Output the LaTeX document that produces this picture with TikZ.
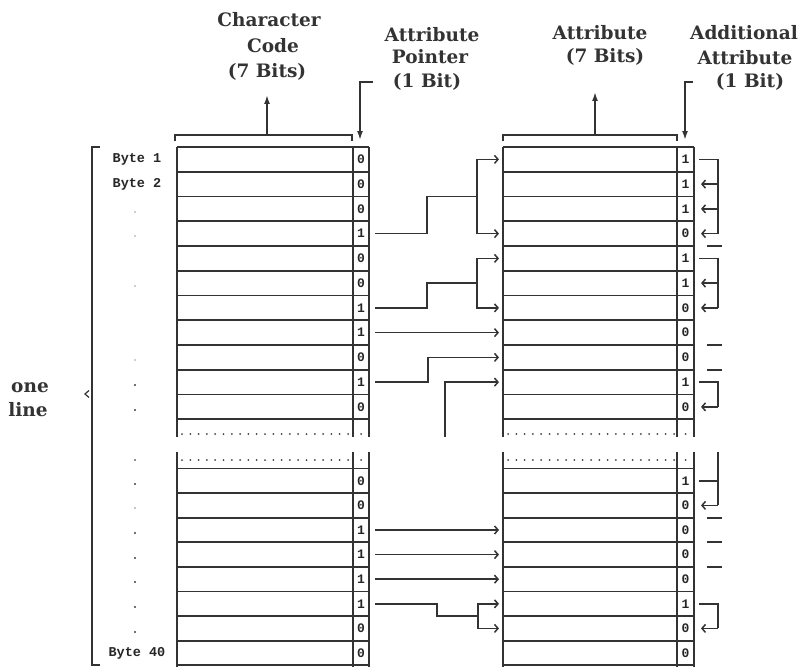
\documentclass[tikz,border=0pt]{standalone}
\usepackage{fontspec}
\setmainfont{DejaVu Serif}
\newfontfamily\lblfont{DejaVu Serif}
\newfontfamily\dotfont{Liberation Mono}
\usetikzlibrary{arrows.meta}
\tikzset{
  tbl/.style={line width=1.8pt, draw=black!80},
  wire/.style={line width=1.7pt, draw=black!80},
  arr/.style={wire, -{Straight Barb[length=3.5pt,width=8pt,line width=1.5pt]}},
  uparr/.style={wire, -{Latex[length=9pt,width=6pt]}},
  lbl/.style={font=\lblfont\bfseries\fontsize{18.5}{22}\selectfont, text=black!80, anchor=base, inner sep=0pt},
  bitlbl/.style={font=\dotfont\bfseries\fontsize{13}{13}\selectfont, text=black!85, inner sep=0pt},
  bytelbl/.style={font=\dotfont\bfseries\fontsize{13.5}{13.5}\selectfont, text=black!85, inner sep=0pt},
  dotmark/.style={fill=black!75}
}
\begin{document}
\begin{tikzpicture}[x=1pt, y=-1pt, line join=miter]
\useasboundingbox (0,0) rectangle (802,666);

% ---------- tables ----------
\foreach \xa/\xb/\xc in {177/353/369, 503/677/694}{
  \foreach \k in {0,...,11}{\draw[tbl] (\xa,{147+\k*24.75}) -- (\xc,{147+\k*24.75});}
  \foreach \k in {0,...,8}{\draw[tbl] (\xa,{468.5+\k*24.6}) -- (\xc,{468.5+\k*24.6});}
  \foreach \xx in {\xa,\xb,\xc}{
    \draw[tbl] (\xx,147) -- (\xx,437);
    \draw[tbl] (\xx,452) -- (\xx,667);
  }
  \foreach \yy in {434,460}{
    \foreach \k in {0,...,20}{\fill[dotmark] ({\xa+5+\k*8.3},\yy) circle[radius=1pt];}
    \fill[dotmark] ({(\xb+\xc)/2},\yy) circle[radius=1pt];
  }
}

% ---------- bit values and anchor coordinates ----------
\foreach \v [count=\i] in {0,0,0,1,0,0,1,1,0,1,0}{
  \node[bitlbl] (lbU\i) at (361,{147+(\i-0.5)*24.75}) {\v};
  \coordinate (LoU-\i) at (375,{147+(\i-0.5)*24.75});
}
\foreach \v [count=\i] in {1,1,1,0,1,1,0,0,0,1,0}{
  \node[bitlbl] (rbU\i) at (685.5,{147+(\i-0.5)*24.75}) {\v};
  \coordinate (RiU-\i) at (499,{147+(\i-0.5)*24.75});
  \coordinate (RoU-\i) at (699,{147+(\i-0.5)*24.75});
  \coordinate (RaU-\i) at (701,{147+(\i-0.5)*24.75});
}
\foreach \v [count=\i] in {0,0,1,1,1,1,0,0}{
  \node[bitlbl] (lbL\i) at (361,{468.5+(\i-0.5)*24.6}) {\v};
  \coordinate (LoL-\i) at (375,{468.5+(\i-0.5)*24.6});
}
\foreach \v [count=\i] in {1,0,0,0,0,1,0,0}{
  \node[bitlbl] (rbL\i) at (685.5,{468.5+(\i-0.5)*24.6}) {\v};
  \coordinate (RiL-\i) at (499,{468.5+(\i-0.5)*24.6});
  \coordinate (RoL-\i) at (699,{468.5+(\i-0.5)*24.6});
  \coordinate (RaL-\i) at (701,{468.5+(\i-0.5)*24.6});
}

% ---------- byte labels and dots ----------
\node[bytelbl] (b1) at (137,159.4) {Byte 1};
\node[bytelbl] (b2) at (137,184.1) {Byte 2};
\node[bytelbl] (b40) at (137,653) {Byte 40};
\foreach \y/\c in {212/black!25, 236/black!25, 286/black!25, 360/black!25, 385/black!75, 410/black!75,
                   460/black!60, 484/black!75, 508/black!30, 533/black!75, 558/black!75,
                   582/black!75, 607/black!75, 632/black!75}{
  \fill[\c] (135,\y) circle[radius=1.2pt];
}

% ---------- left brace: one line ----------
\draw[tbl] (100,147) -- (92,147) -- (92,665) -- (100,665);
\draw[wire, line width=1.2pt] (89,390.5) -- (85,394) -- (89,397.5);
\node[lbl] (one) at (30,392) {one};
\node[lbl] (line) at (28,416) {line};

% ---------- top annotations ----------
\draw[tbl] (175,141) -- (175,135) -- (352,135) -- (352,141);
\draw[uparr] (267,135) -- (267,95);
\node[lbl] (cc1) at (269,27) {Character};
\node[lbl] (cc2) at (273,53) {Code};
\node[lbl] (cc3) at (267,78) {(7 Bits)};

\draw[uparr] (373,82) -- (360,82) -- (360,140);
\node[lbl] (ap1) at (432,42) {Attribute};
\node[lbl] (ap2) at (430,64) {Pointer};
\node[lbl] (ap3) at (427,88) {(1 Bit)};

\draw[tbl] (503,141) -- (503,135) -- (677,135) -- (677,141);
\draw[uparr] (595,135) -- (595,92);
\node[lbl] (at1) at (600,40) {Attribute};
\node[lbl] (at2) at (605,63) {(7 Bits)};

\draw[uparr] (693,82) -- (685,82) -- (685,140);
\node[lbl] (ad1) at (744,40) {Additional};
\node[lbl] (ad2) at (745,65) {Attribute};
\node[lbl] (ad3) at (750,88) {(1 Bit)};

% ---------- pointer connectors ----------
\draw[wire] (LoU-4) -| (427,196.5) -- (477,196.5);
\draw[arr] (477,196.5) |- (RiU-1);
\draw[arr] (477,196.5) |- (RiU-4);
\draw[wire] (LoU-7) -| (427,283.1) -- (477,283.1);
\draw[arr] (477,283.1) |- (RiU-5);
\draw[arr] (477,283.1) |- (RiU-7);
\draw[arr] (LoU-8) -- (RiU-8);
\draw[arr] (LoU-10) -- ++(53,0) |- (RiU-9);
\coordinate (gapA) at (445,437);
\draw[arr] (gapA) |- (RiU-10);
\foreach \k in {3,4,5}{\draw[arr] (LoL-\k) -- (RiL-\k);}
\draw[wire] (LoL-6) -- ++(62,0) |- (478,616.1);
\draw[arr] (478,616.1) |- (RiL-6);
\draw[arr] (478,616.1) |- (RiL-7);

% ---------- additional attribute brackets ----------
\draw[wire] (RoU-1) -- ++(19,0) -- ++(0,74.25);
\foreach \k in {2,3,4}{\draw[arr] (RaU-\k) ++(17,0) -- (RaU-\k);}
\draw[wire] (RoU-5) -- ++(19,0) -- ++(0,49.5);
\foreach \k in {6,7}{\draw[arr] (RaU-\k) ++(17,0) -- (RaU-\k);}
\draw[wire] (RoU-10) -- ++(19,0) -- ++(0,24.75);
\draw[arr] (RaU-11) ++(17,0) -- (RaU-11);
\coordinate (gapB) at (718,452);
\draw[wire] (gapB) -- (RaL-2 -| gapB);
\draw[wire] (RoL-1) -- ++(19,0);
\draw[arr] (RaL-2) ++(17,0) -- (RaL-2);
\draw[wire] (RoL-6) -- ++(19,0) -- ++(0,24.6);
\draw[arr] (RaL-7) ++(17,0) -- (RaL-7);
\foreach \y in {246,345,369.75,517.7,542.3,566.9}{\draw[wire] (707,\y) -- (722,\y);}
\end{tikzpicture}
\end{document}
